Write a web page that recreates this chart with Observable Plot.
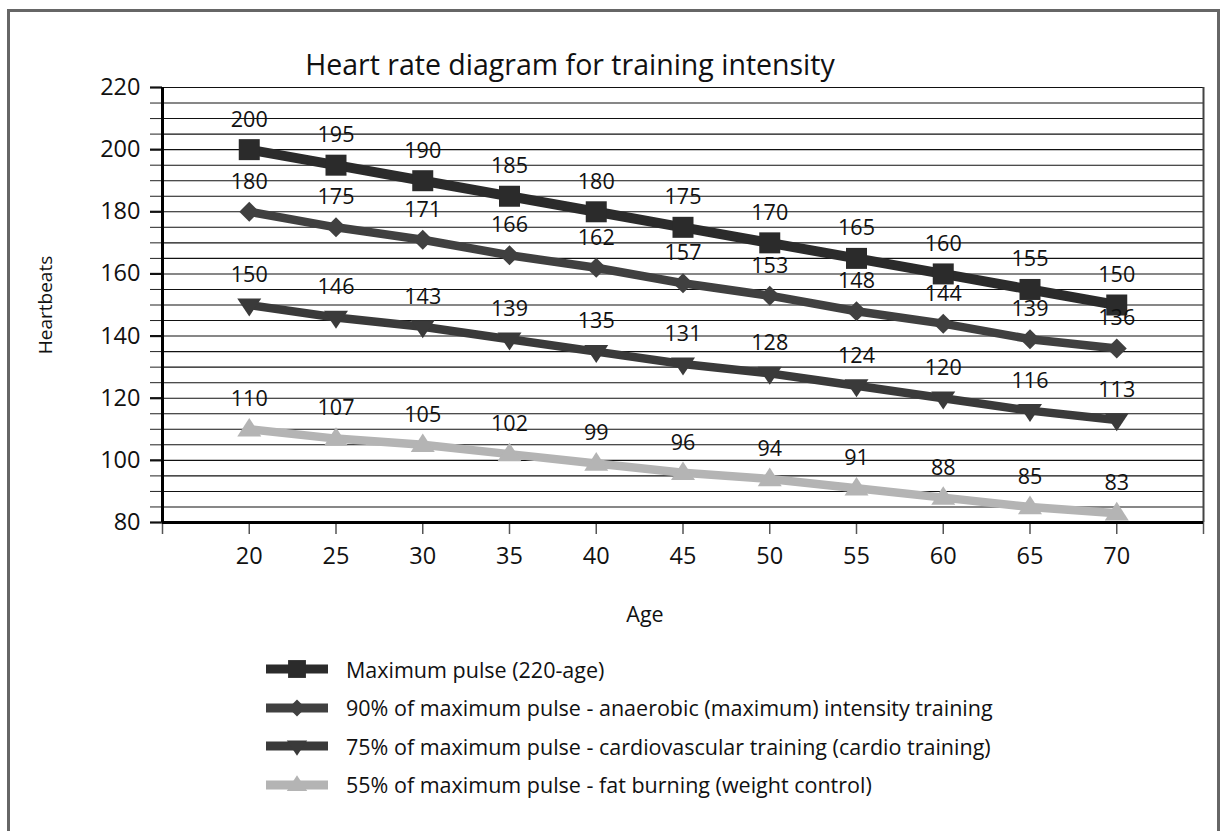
<!DOCTYPE html>
<html>
<head>
<meta charset="utf-8">
<script src="https://cdn.jsdelivr.net/npm/d3@7"></script>
<script src="https://cdn.jsdelivr.net/npm/@observablehq/plot@0.6"></script>
<style>
  html, body { margin: 0; padding: 0; background: #fff; }
  #wrap { position: relative; width: 1226px; height: 831px; overflow: hidden; font-family: "Open Sans", sans-serif; color: #111; }
  #frame { position: absolute; left: 7px; top: 9px; width: 1213px; height: 900px; border: 3px solid #666; border-bottom: none; box-sizing: border-box; }
  #chart { position: absolute; left: 0; top: 0; }
  #title { position: absolute; left: 0; width: 1140px; top: 46px; text-align: center; font-size: 28.5px; line-height: 36px; white-space: nowrap; }
  #ylab { position: absolute; left: 45px; top: 305px; transform: translate(-50%, -50%) rotate(-90deg); font-size: 19px; white-space: nowrap; }
  #xlab { position: absolute; left: 645px; top: 613px; transform: translate(-50%, -50%); font-size: 21.5px; white-space: nowrap; }
  #legend { position: absolute; left: 266px; top: 650px; }
  .row { display: flex; align-items: center; height: 38.5px; }
  .row svg { flex: none; margin-right: 18px; }
  .row span { font-size: 21.5px; white-space: nowrap; }
</style>
</head>
<body>
<div id="wrap">
  <div id="frame"></div>
  <div id="chart"></div>
  <div id="title">Heart rate diagram for training intensity</div>
  <div id="ylab">Heartbeats</div>
  <div id="xlab">Age</div>
  <div id="legend"></div>
</div>
<script>
// ---- data ----
const ages = [20, 25, 30, 35, 40, 45, 50, 55, 60, 65, 70];
const maxPulse = [200, 195, 190, 185, 180, 175, 170, 165, 160, 155, 150];
const pulse90 = [180, 175, 171, 166, 162, 157, 153, 148, 144, 139, 136];
const pulse75 = [150, 146, 143, 139, 135, 131, 128, 124, 120, 116, 113];
const pulse55 = [110, 107, 105, 102, 99, 96, 94, 91, 88, 85, 83];
const seriesNames = [
  "Maximum pulse (220-age)",
  "90% of maximum pulse - anaerobic (maximum) intensity training",
  "75% of maximum pulse - cardiovascular training (cardio training)",
  "55% of maximum pulse - fat burning (weight control)"
];
const yMajorTicks = [80, 100, 120, 140, 160, 180, 200, 220];

// ---- symbols ----
const rOf = size => Math.sqrt(size / Math.PI);
const symSquare = { draw(c, size) { const r = rOf(size); c.moveTo(-r, -r); c.lineTo(r, -r); c.lineTo(r, r); c.lineTo(-r, r); c.closePath(); } };
const symDiamond = { draw(c, size) { const r = rOf(size); c.moveTo(0, -r); c.lineTo(r, 0); c.lineTo(0, r); c.lineTo(-r, 0); c.closePath(); } };
const symDown = { draw(c, size) { const r = rOf(size); c.moveTo(-r, -0.55 * r); c.lineTo(r, -0.55 * r); c.lineTo(0, 0.95 * r); c.closePath(); } };
const symUp = { draw(c, size) { const r = rOf(size); c.moveTo(0, -0.95 * r); c.lineTo(r, 0.6 * r); c.lineTo(-r, 0.6 * r); c.closePath(); } };

const styles = [
  { values: maxPulse, color: "#2b2b2b", width: 10, symbol: symSquare, r: 10.5 },
  { values: pulse90, color: "#404040", width: 8.5, symbol: symDiamond, r: 10 },
  { values: pulse75, color: "#3a3a3a", width: 8.5, symbol: symDown, r: 12 },
  { values: pulse55, color: "#b4b4b4", width: 8.5, symbol: symUp, r: 12 }
];

const series = styles.map((s, k) => ({
  ...s,
  name: seriesNames[k],
  rows: ages.map((a, i) => ({ age: a, value: s.values[i] }))
}));

const marks = [
  Plot.ruleY(d3.range(85, 221, 5), { stroke: "#111", strokeWidth: 1.1 }),
  Plot.ruleX([75], { y1: 80, y2: 220, stroke: "#444", strokeWidth: 2 }),
  Plot.axisY({ ticks: d3.range(80, 221, 5), tickSize: 12, text: null, stroke: "#222", strokeWidth: 1 }),
  Plot.axisY({ ticks: yMajorTicks, tickSize: 12, tickPadding: 10, fontSize: 23.5, stroke: "#111", strokeWidth: 2.2, fill: "#111" }),
  Plot.axisX({ ticks: d3.range(15, 76, 5), tickSize: 12, text: null, stroke: "#555", strokeWidth: 1.5 }),
  Plot.axisX({ ticks: ages, tickSize: 0, tickPadding: 25, fontSize: 23.5, fill: "#111" }),
  Plot.ruleX([15], { y1: 80, y2: 220, stroke: "#000", strokeWidth: 3 }),
  Plot.ruleY([80], { stroke: "#000", strokeWidth: 3 })
];

for (const s of series) {
  marks.push(Plot.line(s.rows, { x: "age", y: "value", stroke: s.color, strokeWidth: s.width }));
  marks.push(Plot.dot(s.rows, { x: "age", y: "value", symbol: s.symbol, r: s.r, fill: s.color, stroke: "none" }));
}
for (const s of series) {
  marks.push(Plot.text(s.rows, { x: "age", y: "value", text: d => String(d.value), dy: -30, fontSize: 21.5, fill: "#111" }));
}

const chart = Plot.plot({
  width: 1226,
  height: 640,
  marginLeft: 162,
  marginRight: 23,
  marginTop: 87,
  marginBottom: 118,
  style: { fontFamily: "'Open Sans', sans-serif", background: "transparent", overflow: "visible" },
  x: { domain: [15, 75], label: null },
  y: { domain: [80, 220], label: null },
  marks
});
document.getElementById("chart").append(chart);

// ---- legend ----
const legend = document.getElementById("legend");
for (const s of series) {
  const row = document.createElement("div");
  row.className = "row";
  const svg = d3.create("svg").attr("width", 62).attr("height", 26);
  svg.append("line").attr("x1", 0).attr("x2", 62).attr("y1", 13).attr("y2", 13)
    .attr("stroke", s.color).attr("stroke-width", 9);
  const p = d3.path();
  s.symbol.draw(p, Math.PI * (s.r * 0.85) ** 2);
  svg.append("path").attr("d", p.toString()).attr("transform", "translate(31,13)").attr("fill", s.color);
  row.append(svg.node());
  const span = document.createElement("span");
  span.textContent = s.name;
  row.append(span);
  legend.append(row);
}
</script>
</body>
</html>
